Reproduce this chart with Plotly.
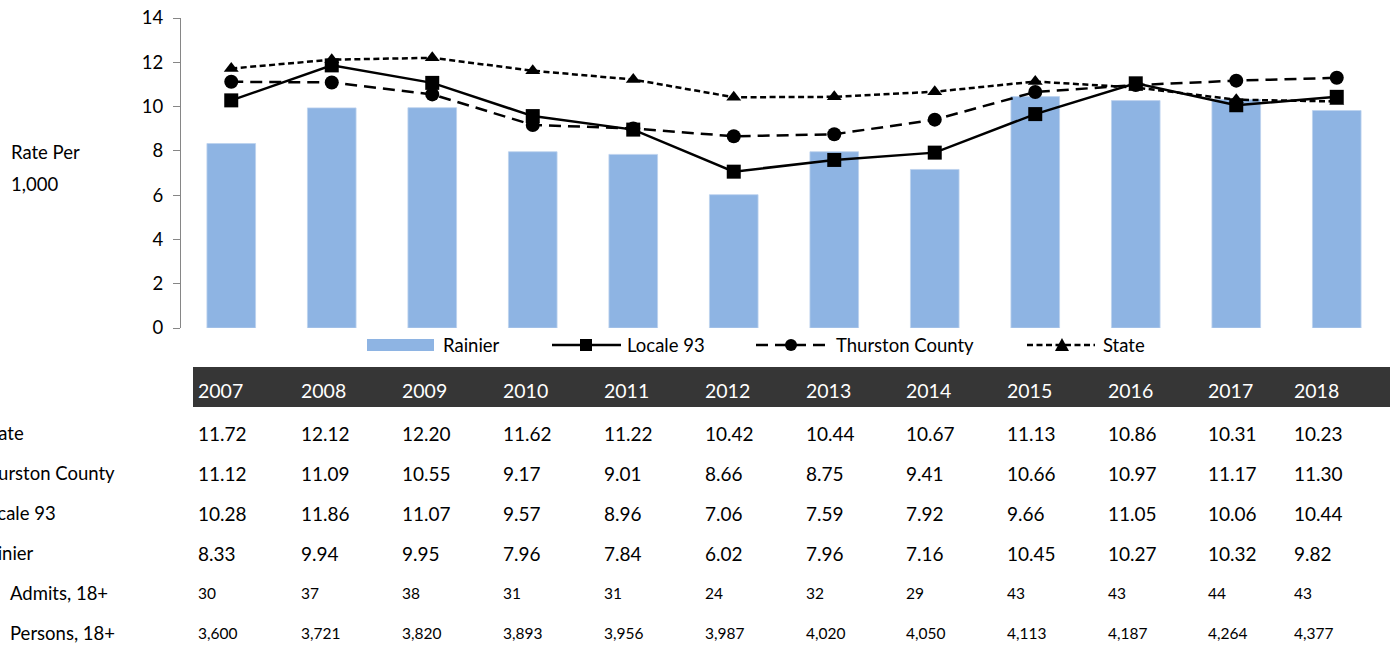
import plotly.graph_objects as go

years = [2007, 2008, 2009, 2010, 2011, 2012, 2013, 2014, 2015, 2016, 2017, 2018]
state = [11.72, 12.12, 12.20, 11.62, 11.22, 10.42, 10.44, 10.67, 11.13, 10.86, 10.31, 10.23]
thurston = [11.12, 11.09, 10.55, 9.17, 9.01, 8.66, 8.75, 9.41, 10.66, 10.97, 11.17, 11.30]
locale93 = [10.28, 11.86, 11.07, 9.57, 8.96, 7.06, 7.59, 7.92, 9.66, 11.05, 10.06, 10.44]
rainier = [8.33, 9.94, 9.95, 7.96, 7.84, 6.02, 7.96, 7.16, 10.45, 10.27, 10.32, 9.82]
admits = [30, 37, 38, 31, 31, 24, 32, 29, 43, 43, 44, 43]
persons = [3600, 3721, 3820, 3893, 3956, 3987, 4020, 4050, 4113, 4187, 4264, 4377]
y_ticks = [0, 2, 4, 6, 8, 10, 12, 14]

# ---- layout geometry (pixels) ----
W_FIG, H_FIG = 1396, 646
L, R, T, B = 181, 9, 18, 318
PW = W_FIG - L - R
PH = H_FIG - T - B
col_px = [197, 300, 401, 502, 603, 704, 805, 905, 1006, 1107, 1207, 1293]
FONT = "Lato"
BAR_COLOR = "#8EB4E3"
STATE_DASH = "6px,3.5px"
THURSTON_DASH = "12px,7px"


def px_x(p):
    return (p - L) / PW


def px_y(p):
    return (H_FIG - B - p) / PH


cats = [str(y) for y in years]

fig = go.Figure()
fig.add_trace(go.Bar(
    x=cats, y=rainier, name="Rainier",
    marker=dict(color=BAR_COLOR, line=dict(color="#BCD2EE", width=0.8)),
))
fig.add_trace(go.Scatter(
    x=cats, y=locale93, name="Locale 93", mode="lines+markers",
    line=dict(color="black", width=2.5),
    marker=dict(symbol="square", size=14, color="black"),
))
fig.add_trace(go.Scatter(
    x=cats, y=thurston, name="Thurston County", mode="lines+markers",
    line=dict(color="black", width=2.5, dash=THURSTON_DASH),
    marker=dict(symbol="circle", size=14, color="black"),
))
fig.add_trace(go.Scatter(
    x=cats, y=state, name="State", mode="lines+markers",
    line=dict(color="black", width=2.5, dash=STATE_DASH),
    marker=dict(symbol="triangle-up", size=13, color="black"),
))

annotations = []
shapes = []


def text_at(txt, x, y, size, color="black"):
    annotations.append(dict(text=txt, x=px_x(x), y=px_y(y), xref="paper", yref="paper",
                            xanchor="left", yanchor="middle", showarrow=False,
                            font=dict(family=FONT, size=size, color=color)))


# y-axis title
text_at("Rate Per", 9, 152, 18.5)
text_at("1,000", 9, 184, 18.5)

# ---- custom legend ----
LG_Y = 345
# Rainier swatch
shapes.append(dict(type="rect", xref="paper", yref="paper",
                   x0=px_x(367), x1=px_x(434), y0=px_y(351), y1=px_y(339),
                   fillcolor=BAR_COLOR, line=dict(width=0)))
text_at("Rainier", 441, LG_Y, 18.5)
# Locale 93
shapes.append(dict(type="line", xref="paper", yref="paper",
                   x0=px_x(552), x1=px_x(621), y0=px_y(LG_Y), y1=px_y(LG_Y),
                   line=dict(color="black", width=2.5)))
shapes.append(dict(type="rect", xref="paper", yref="paper",
                   x0=px_x(580), x1=px_x(592), y0=px_y(LG_Y + 6), y1=px_y(LG_Y - 6),
                   fillcolor="black", line=dict(width=0)))
text_at("Locale 93", 625, LG_Y, 18.5)
# Thurston County
shapes.append(dict(type="line", xref="paper", yref="paper",
                   x0=px_x(756), x1=px_x(827), y0=px_y(LG_Y), y1=px_y(LG_Y),
                   line=dict(color="black", width=2.5, dash=THURSTON_DASH)))
shapes.append(dict(type="circle", xref="paper", yref="paper",
                   x0=px_x(785), x1=px_x(797), y0=px_y(LG_Y + 6), y1=px_y(LG_Y - 6),
                   fillcolor="black", line=dict(width=0)))
text_at("Thurston County", 834, LG_Y, 18.5)
# State
shapes.append(dict(type="line", xref="paper", yref="paper",
                   x0=px_x(1027), x1=px_x(1095), y0=px_y(LG_Y), y1=px_y(LG_Y),
                   line=dict(color="black", width=2.5, dash=STATE_DASH)))
tx, ty = 1062, LG_Y
tri = "M {:.5f},{:.5f} L {:.5f},{:.5f} L {:.5f},{:.5f} Z".format(
    px_x(tx - 7), px_y(ty + 6), px_x(tx + 7), px_y(ty + 6), px_x(tx), px_y(ty - 7))
shapes.append(dict(type="path", xref="paper", yref="paper", path=tri,
                   fillcolor="black", line=dict(width=0)))
text_at("State", 1101, LG_Y, 18.5)

# ---- table ----
shapes.append(dict(type="rect", xref="paper", yref="paper",
                   x0=px_x(193), x1=px_x(1390), y0=px_y(407), y1=px_y(367),
                   fillcolor="#363636", line=dict(width=0), layer="below"))

for i, yr in enumerate(years):
    text_at(str(yr), col_px[i] - 1, 390, 19.5, "white")

rows = [
    ("State", state, "{:.2f}", 19, -20),
    ("Thurston County", thurston, "{:.2f}", 19, -25),
    ("Locale 93", locale93, "{:.2f}", 19, -24),
    ("Rainier", rainier, "{:.2f}", 19, -25),
    ("Admits, 18+", admits, "{:,}", 15.5, 8),
    ("Persons, 18+", persons, "{:,}", 15.5, 8),
]
for k, (label, vals, fmt, fs, lx) in enumerate(rows):
    yc = 433 + 40 * k
    text_at(label, lx, yc, 18.5)
    for i, v in enumerate(vals):
        text_at(fmt.format(v), col_px[i] - 1, yc, fs)

fig.update_layout(
    width=W_FIG, height=H_FIG,
    margin=dict(l=L, r=R, t=T, b=B, autoexpand=False),
    paper_bgcolor="white", plot_bgcolor="white",
    bargap=0.516,
    showlegend=False,
    xaxis=dict(range=[-0.5, 11.5], showticklabels=False, showline=False, ticks="",
               showgrid=False, zeroline=False),
    yaxis=dict(range=[0, 14], tickvals=y_ticks, showline=True, linecolor="#868686", linewidth=1,
               ticks="outside", ticklen=7, tickcolor="#868686", showgrid=False, zeroline=False,
               tickfont=dict(family=FONT, size=18.5, color="black"), ticklabelstandoff=6),
    annotations=annotations,
    shapes=shapes,
    font=dict(family=FONT),
)

fig.write_html("out.html", config={"displayModeBar": False},
               post_script="document.body.style.margin='0';")
